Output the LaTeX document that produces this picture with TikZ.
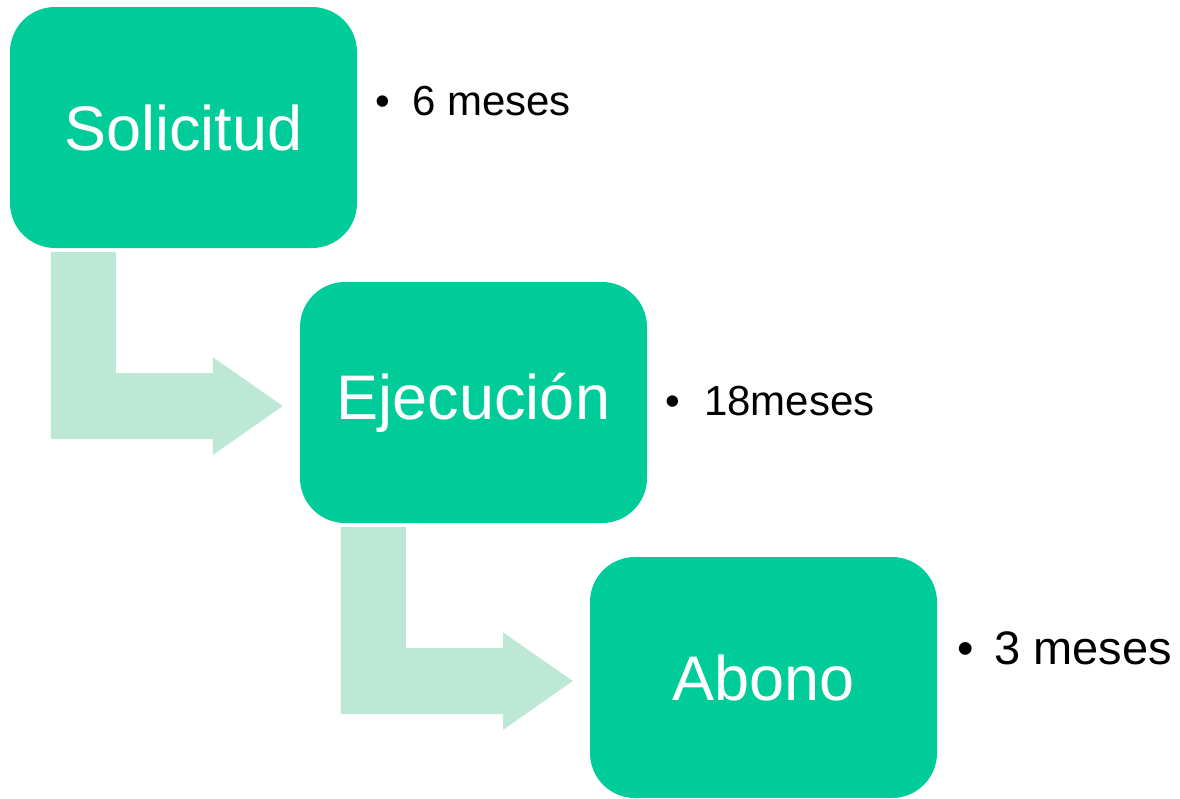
\documentclass[tikz,border=0pt]{standalone}
\usepackage{fontspec}
\setmainfont{Liberation Sans}
\usepackage{tikz}
\usetikzlibrary{calc,positioning}

\definecolor{boxgreen}{RGB}{0,204,153}
\definecolor{arrowgreen}{RGB}{189,232,213}

\begin{document}
\begin{tikzpicture}[x=1pt, y=-1pt]
		\tikzstyle{Phase}	= [rectangle, fill=boxgreen, text=white, rounded corners=45pt, minimum width=347pt, minimum height=241pt, inner sep=0pt, font=\fontsize{63}{70}\selectfont]
		\tikzstyle{Step}	= [fill=arrowgreen]
		\tikzstyle{Bullet}	= [anchor=base, inner sep=0pt, font=\fontsize{42}{48}\selectfont]
		\tikzstyle{Time}	= [anchor=base west, inner sep=0pt, font=\fontsize{42}{48}\selectfont]

		\useasboundingbox (0,0) rectangle (1180,798);

		\node (sol) at (183.5, 127.5) [Phase] {Solicitud};
		\node (eje) at (473.5, 402.5) [Phase] {Ejecución};
		\node (abo) at (763.5, 677.5) [Phase] {Abono};

		% bent arrows between the phases
		\fill [Step] ($(sol.south west)+(41,4)$) -- ++(65,0) -- ++(0,121) -- ++(97,0) -- ++(0,-16)
			-- ($(eje.west)+(-17,3.5)$) -- ++(-70,49) -- ++(0,-16) -- ++(-162,0) -- cycle;
		\fill [Step] ($(eje.south west)+(41,4)$) -- ++(65,0) -- ++(0,121) -- ++(97,0) -- ++(0,-16)
			-- ($(abo.west)+(-17,3.5)$) -- ++(-70,49) -- ++(0,-16) -- ++(-162,0) -- cycle;

		\node (b1) at (383, 115) [Bullet] {•};
		\node (t1) at (412, 115) [Time] {6 meses};
		\node (b2) at (673, 415) [Bullet] {•};
		\node (t2) at (704, 415) [Time] {18meses};
		\node (b3) at (966, 664) [Bullet, font=\fontsize{47}{54}\selectfont] {•};
		\node (t3) at (994, 664) [Time, font=\fontsize{47}{54}\selectfont] {3 meses};
\end{tikzpicture}
\end{document}
